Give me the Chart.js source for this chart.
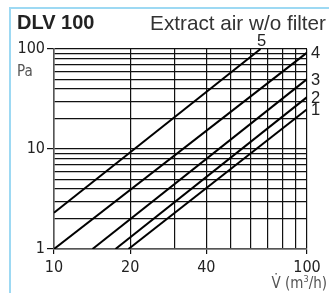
<!DOCTYPE html>
<html>
<head>
<meta charset="utf-8">
<script src="https://cdn.jsdelivr.net/npm/chart.js@4"></script>
<style>
  html, body { margin:0; padding:0; background:#fff; }
  #wrap { position:relative; width:329px; height:293px; overflow:hidden; }
  #frameTop { position:absolute; left:9px; top:7px; width:320px; height:2px; background:#9dd9f3; }
  #frameLeft { position:absolute; left:9px; top:7px; width:2px; height:286px; background:#9dd9f3; }
  #title { position:absolute; left:17px; top:11px; font:bold 20px "Liberation Sans", Arial, sans-serif; color:#222; white-space:nowrap; }
  #subtitle { position:absolute; right:3px; top:11px; font:20.7px "Liberation Sans", Arial, sans-serif; color:#333; white-space:nowrap; }
  #ylab { position:absolute; left:17px; top:62px; font:15px "DejaVu Sans Condensed", "DejaVu Sans", sans-serif; color:#555; }
  #xlab { position:absolute; right:2px; top:274px; font:15px "DejaVu Sans Condensed", "DejaVu Sans", sans-serif; color:#555; white-space:nowrap; }
  canvas { position:absolute; left:0; top:0; }
</style>
</head>
<body>
<div id="wrap">
  <canvas id="c" width="329" height="293"></canvas>
  <div id="frameTop"></div>
  <div id="frameLeft"></div>
  <div id="title">DLV 100</div>
  <div id="subtitle">Extract air w/o filter</div>
  <div id="ylab">Pa</div>
  <div id="xlab">V̇ (m<sup style="font-size:9px">3</sup>/h)</div>
</div>
<script>
// Curve names
const curveNames = ['1', '2', '3', '4', '5'];
// Air flow (m3/h) at the two ends of each curve
const flow1 = [19.7, 100];
const flow2 = [17.5, 100];
const flow3 = [14.2, 100];
const flow4 = [10, 100];
const flow5 = [10, 65.5];
// Pressure drop (Pa) at the same ends
const pres1 = [1, 25];
const pres2 = [1, 33];
const pres3 = [1, 50];
const pres4 = [1, 92];
const pres5 = [2.3, 100];
// Labelled ticks
const xTickLabels = [10, 20, 40, 100];
const yTickLabels = [1, 10, 100];

const flows = [flow1, flow2, flow3, flow4, flow5];
const pres = [pres1, pres2, pres3, pres4, pres5];

const datasets = curveNames.map((n, i) => ({
  label: n,
  data: flows[i].map((f, j) => ({ x: f, y: pres[i][j] })),
  borderColor: '#000',
  borderWidth: 2,
  pointRadius: 0,
  fill: false,
  tension: 0
}));

const curveLabels = {
  id: 'curveLabels',
  afterDatasetsDraw(chart) {
    const ctx = chart.ctx;
    const xs = chart.scales.x, ys = chart.scales.y;
    ctx.save();
    ctx.fillStyle = '#222';
    ctx.font = '16.5px "Liberation Sans Narrow", "Arial Narrow", "Liberation Sans", sans-serif';
    chart.data.datasets.forEach((ds, i) => {
      const p = ds.data[ds.data.length - 1];
      const px = xs.getPixelForValue(p.x);
      const py = ys.getPixelForValue(p.y);
      if (p.y >= 100 && p.x < 100) {
        ctx.textAlign = 'center';
        ctx.textBaseline = 'bottom';
        ctx.fillText(ds.label, px + 1, py + 1);
      } else {
        ctx.textAlign = 'left';
        ctx.textBaseline = 'middle';
        ctx.fillText(ds.label, px + 4, py + 1);
      }
    });
    ctx.restore();
  }
};

const xGridOn = v => Math.abs(v % 10) < 1e-9;
const yGridOn = v => Number.isInteger(v) && (v <= 10 || v % 10 === 0);
const tickFont = { family: '"DejaVu Sans Condensed", "DejaVu Sans", sans-serif', size: 16 };

new Chart(document.getElementById('c'), {
  type: 'line',
  data: { datasets },
  options: {
    responsive: false,
    animation: false,
    layout: { padding: { top: 49, right: 22, left: 0, bottom: 0 } },
    plugins: { legend: { display: false }, tooltip: { enabled: false } },
    scales: {
      x: {
        type: 'logarithmic',
        min: 10, max: 100,
        afterFit(s) { s.height = 44; s.paddingLeft = 0; s.paddingRight = 0; },
        border: { color: '#555', width: 1.5 },
        grid: {
          lineWidth: 1.2, tickLength: 5,
          color: c => (c.tick && xGridOn(c.tick.value)) ? '#111' : 'rgba(0,0,0,0)',
          tickColor: c => xTickLabels.includes(c.tick && c.tick.value) ? '#111' : 'rgba(0,0,0,0)'
        },
        ticks: {
          autoSkip: false, maxRotation: 0, padding: 4,
          color: '#222', font: tickFont,
          callback: v => xTickLabels.includes(v) ? String(v) : ''
        }
      },
      y: {
        type: 'logarithmic',
        min: 1, max: 100,
        afterFit(s) { s.width = 54; s.paddingTop = 0; s.paddingBottom = 0; },
        border: { color: '#555', width: 1.5 },
        grid: {
          lineWidth: 1.2, tickLength: 7,
          color: c => (c.tick && yGridOn(c.tick.value)) ? '#111' : 'rgba(0,0,0,0)',
          tickColor: c => yTickLabels.includes(c.tick && c.tick.value) ? '#111' : 'rgba(0,0,0,0)'
        },
        ticks: {
          autoSkip: false, padding: 2,
          color: '#222', font: tickFont,
          callback: v => yTickLabels.includes(v) ? String(v) : ''
        }
      }
    }
  },
  plugins: [curveLabels]
});
</script>
</body>
</html>
